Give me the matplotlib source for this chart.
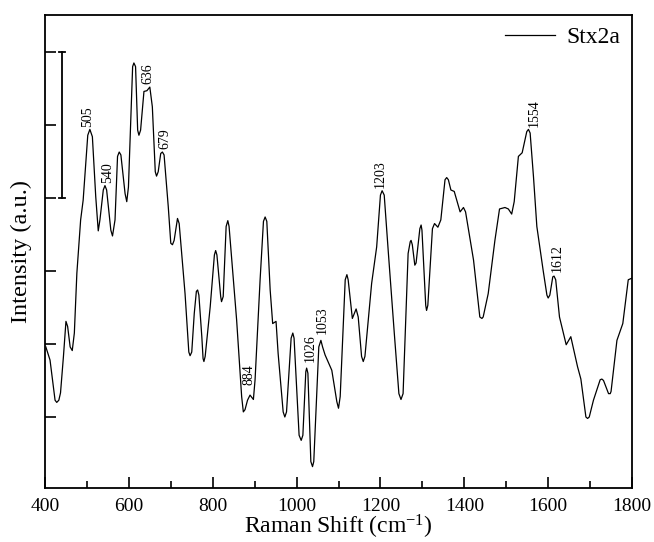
import matplotlib
matplotlib.use("Agg")
from matplotlib import pyplot as plt

plt.rcParams['font.family'] = ['Liberation Serif', 'DejaVu Serif']
plt.rcParams['mathtext.fontset'] = 'custom'
plt.rcParams['mathtext.rm'] = 'Liberation Serif'
plt.rcParams['mathtext.it'] = 'Liberation Serif:italic'

# spectrum (Raman shift, intensity in arbitrary units)
shift = [402, 412, 420, 424, 428, 433, 437, 444, 450, 454,
         460, 465, 470, 476, 485, 491, 502, 507, 513, 521,
         527, 531, 539, 543, 547, 557, 561, 567, 573, 577,
         581, 591, 595, 599, 609, 612, 616, 621, 624, 628,
         636, 643, 650, 656, 663, 666, 670, 676, 680, 684,
         694, 700, 704, 708, 716, 720, 734, 743, 746, 750,
         756, 761, 764, 767, 774, 777, 779, 782, 794, 804,
         807, 810, 819, 821, 825, 832, 836, 839, 857, 869,
         873, 877, 883, 889, 897, 901, 913, 921, 925, 929,
         937, 943, 951, 956, 968, 972, 976, 987, 991, 994,
         1006, 1011, 1015, 1022, 1024, 1027, 1034, 1038, 1041, 1053,
         1058, 1062, 1068, 1084, 1096, 1100, 1104, 1116, 1120, 1123,
         1133, 1142, 1147, 1155, 1159, 1163, 1179, 1191, 1200, 1204,
         1209, 1219, 1233, 1244, 1249, 1254, 1266, 1271, 1273, 1276,
         1282, 1285, 1294, 1297, 1299, 1308, 1310, 1313, 1324, 1329,
         1337, 1344, 1354, 1358, 1362, 1368, 1376, 1390, 1398, 1403,
         1422, 1437, 1442, 1445, 1457, 1473, 1484, 1497, 1505, 1513,
         1519, 1529, 1538, 1549, 1553, 1557, 1565, 1573, 1588, 1597,
         1600, 1604, 1611, 1614, 1618, 1627, 1643, 1654, 1670, 1678,
         1690, 1694, 1698, 1708, 1724, 1728, 1732, 1744, 1748, 1750,
         1764, 1778, 1791, 1799]
intensity = [1.96, 1.78, 1.42, 1.23, 1.20, 1.23, 1.33, 1.83, 2.31, 2.24,
             1.96, 1.91, 2.15, 2.97, 3.70, 3.97, 4.86, 4.94, 4.84, 4.02,
             3.55, 3.70, 4.11, 4.17, 4.11, 3.56, 3.48, 3.70, 4.57, 4.63,
             4.59, 4.06, 3.95, 4.15, 5.80, 5.85, 5.80, 4.93, 4.86, 4.93,
             5.46, 5.47, 5.52, 5.25, 4.36, 4.30, 4.36, 4.61, 4.63, 4.59,
             3.88, 3.38, 3.36, 3.42, 3.72, 3.65, 2.69, 1.89, 1.84, 1.89,
             2.42, 2.72, 2.74, 2.67, 2.10, 1.80, 1.76, 1.83, 2.51, 3.22,
             3.28, 3.22, 2.65, 2.58, 2.65, 3.61, 3.69, 3.61, 2.33, 1.28,
             1.07, 1.10, 1.23, 1.30, 1.24, 1.51, 2.88, 3.68, 3.74, 3.68,
             2.74, 2.28, 2.31, 1.87, 1.07, 1.00, 1.07, 2.08, 2.15, 2.08,
             0.75, 0.68, 0.75, 1.62, 1.67, 1.60, 0.39, 0.32, 0.39, 1.96,
             2.05, 1.96, 1.85, 1.64, 1.21, 1.12, 1.28, 2.88, 2.95, 2.88,
             2.35, 2.48, 2.37, 1.83, 1.76, 1.83, 2.83, 3.33, 4.04, 4.10,
             4.04, 3.24, 2.15, 1.32, 1.24, 1.32, 3.24, 3.40, 3.42, 3.36,
             3.08, 3.11, 3.58, 3.63, 3.56, 2.53, 2.46, 2.53, 3.58, 3.65,
             3.60, 3.70, 4.25, 4.28, 4.25, 4.11, 4.09, 3.81, 3.87, 3.81,
             3.15, 2.37, 2.35, 2.37, 2.69, 3.42, 3.85, 3.87, 3.85, 3.78,
             3.95, 4.57, 4.62, 4.91, 4.94, 4.89, 4.29, 3.61, 3.01, 2.67,
             2.63, 2.67, 2.92, 2.93, 2.88, 2.37, 1.99, 2.10, 1.69, 1.52,
             1.00, 0.98, 1.00, 1.23, 1.51, 1.52, 1.50, 1.32, 1.32, 1.35,
             2.05, 2.28, 2.88, 2.90]

# labelled peaks: text, anchor x, anchor y
peak_labels = ['505', '540', '636', '679', '884', '1026', '1053', '1203', '1554', '1612']
peak_x = [502, 549, 646, 685, 887, 1032, 1061, 1200, 1567, 1622]
peak_y = [4.94, 4.17, 5.52, 4.63, 1.40, 1.72, 2.10, 4.10, 4.94, 2.95]

# scale bar on the left
bar_x = 440
bar_y = [4.0, 6.0]

fig = plt.figure(figsize=(6.54, 5.42), dpi=100)
ax = fig.add_axes([0.0688, 0.0996, 0.8976, 0.8727])

ax.plot(shift, intensity, color='black', lw=0.9, label='Stx2a')

for txt, px, py in zip(peak_labels, peak_x, peak_y):
    ax.annotate(txt, (px, py), xytext=(0, 2), textcoords='offset points',
                rotation=90, ha='center', va='bottom', fontsize=10)

ax.plot([bar_x, bar_x], bar_y, color='black', lw=1.3)
for yy in bar_y:
    ax.plot([bar_x - 7, bar_x + 7], [yy, yy], color='black', lw=1.3)

ax.set_xlim(400, 1800)
ax.set_ylim(0.027, 6.507)
ax.set_xticks(range(400, 1801, 200))
ax.set_xticks(range(500, 1800, 200), minor=True)
ax.set_yticks([1, 2, 3, 4, 5, 6])
ax.set_yticklabels([])
ax.tick_params(axis='both', which='major', direction='in', length=8, width=1.2)
ax.tick_params(axis='x', which='minor', direction='in', length=5, width=1.2)
ax.tick_params(axis='x', labelsize=14, pad=7)
for sp in ax.spines.values():
    sp.set_linewidth(1.3)

ax.set_xlabel('Raman Shift (cm$^{-1}$)', fontsize=17, labelpad=-1)
ax.set_ylabel('Intensity (a.u.)', fontsize=17.5, labelpad=6)

ax.legend(loc='upper right', frameon=False, fontsize=17, handlelength=2.1,
          borderaxespad=0.1, handletextpad=0.5)

fig.savefig('out.png', dpi=100)
